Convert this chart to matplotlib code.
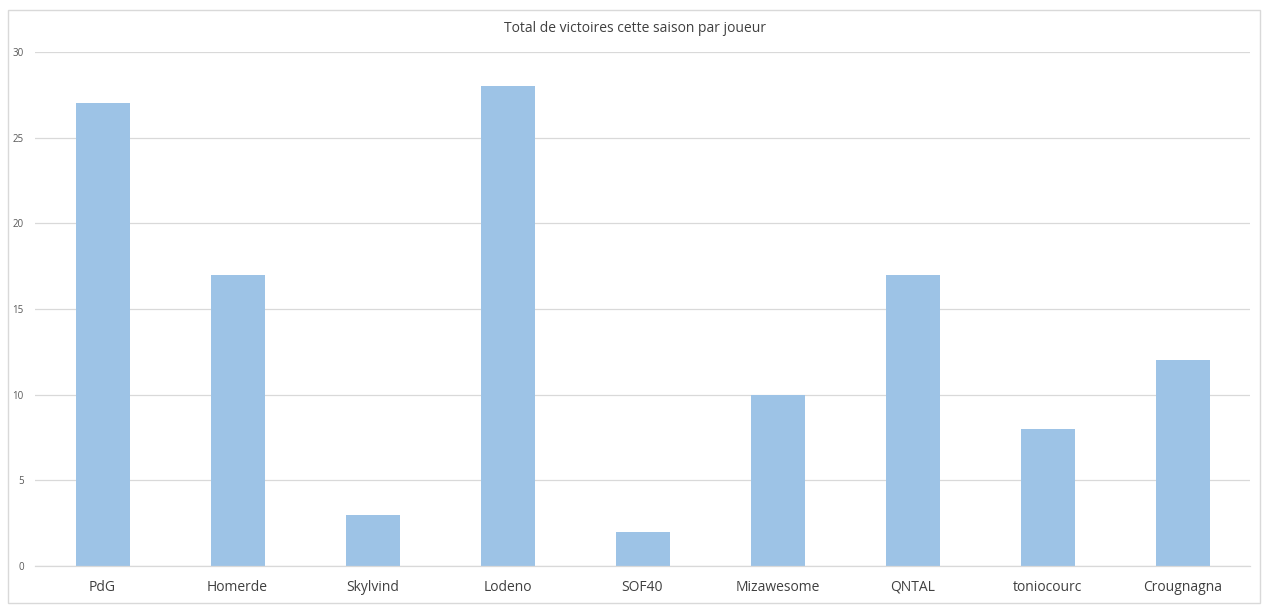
import matplotlib
matplotlib.use("Agg")
import matplotlib.pyplot as plt
from matplotlib.patches import Rectangle

players = ["PdG", "Homerde", "Skylvind", "Lodeno", "SOF40", "Mizawesome", "QNTAL", "toniocourc", "Crougnagna"]
wins = [27, 17, 3, 28, 2, 10, 17, 8, 12]
yticks = [0, 5, 10, 15, 20, 25, 30]

plt.rcParams['font.family'] = ['Open Sans', 'DejaVu Sans']

W, H = 1269, 611
fig = plt.figure(figsize=(W/100, H/100), dpi=100)
fig.patch.set_facecolor("white")
fig.patches.append(Rectangle((8/W, 1 - 603/H), (1260-8)/W, (603-10)/H, transform=fig.transFigure,
                             fill=False, edgecolor="#D9D9D9", linewidth=1))

left, right, top, bottom = 35, 1250, 52, 566
ax = fig.add_axes([left/W, 1 - bottom/H, (right-left)/W, (bottom-top)/H])
x = range(len(players))
ax.bar(x, wins, width=0.4, color="#9DC3E6", zorder=3)
ax.set_xlim(-0.5, len(players) - 0.5)
ax.set_ylim(0, 30)
ax.set_yticks(yticks)
ax.set_yticklabels([str(t) for t in yticks], fontsize=7, color="#595959")
ax.set_xticks(list(x))
ax.set_xticklabels(players, fontsize=10, color="#404040")
ax.tick_params(axis='both', length=0)
ax.tick_params(axis='x', pad=10)
ax.tick_params(axis='y', pad=8)
ax.grid(axis='y', color="#D9D9D9", linewidth=0.9, zorder=0)
for s in ax.spines.values():
    s.set_visible(False)
ax.axhline(0, color="#D9D9D9", linewidth=0.9, zorder=4, clip_on=False)
fig.text(0.5, 1 - 29/H, "Total de victoires cette saison par joueur", ha='center', va='center',
         fontsize=10, color="#404040")

fig.savefig("out.png", dpi=100)
